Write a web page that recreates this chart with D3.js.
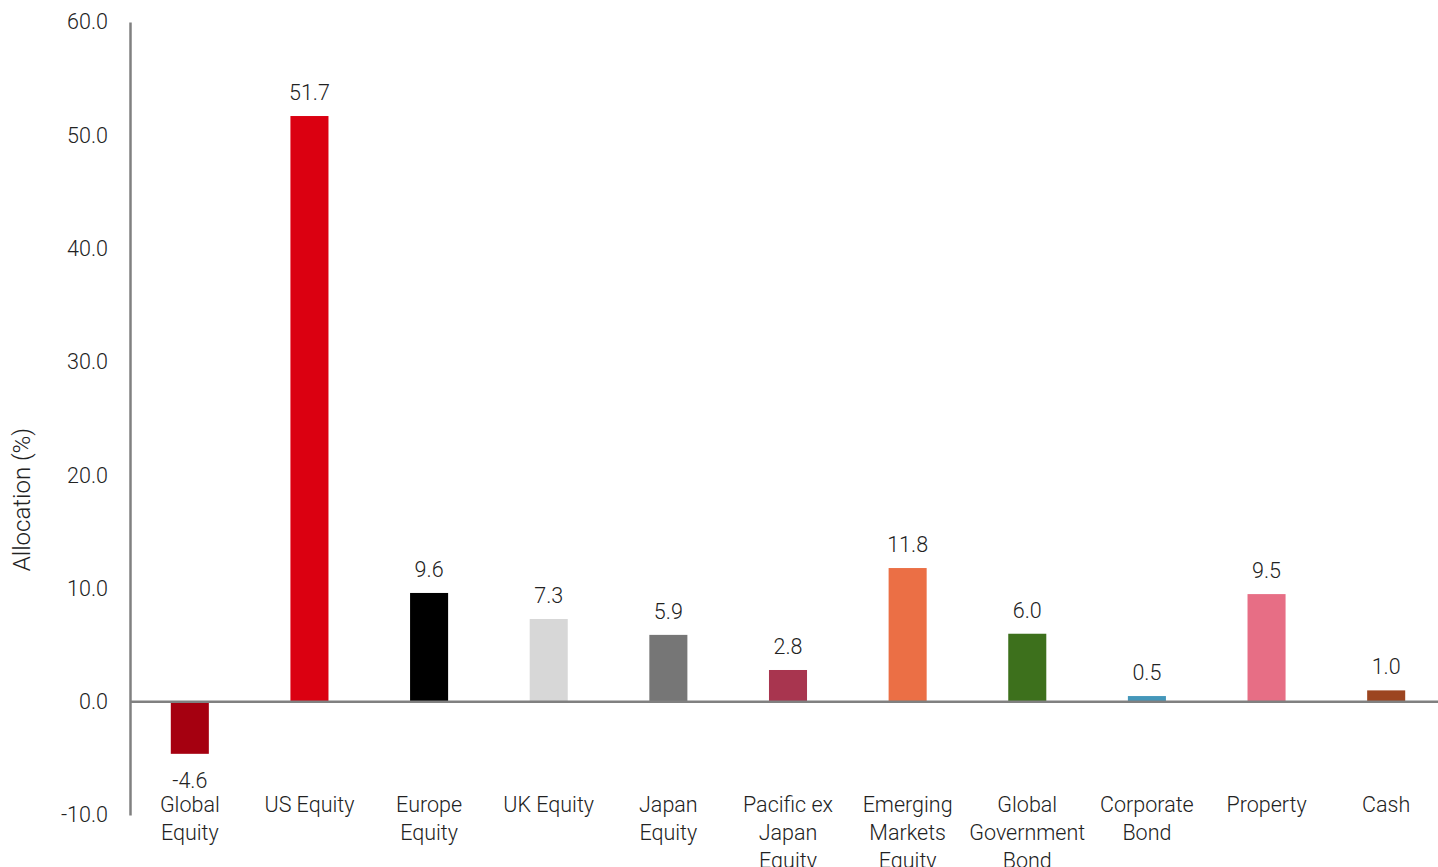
<!DOCTYPE html>
<html>
<head>
<meta charset="utf-8">
<script src="https://cdn.jsdelivr.net/npm/d3@7"></script>
<style>
  html, body { margin: 0; padding: 0; background: #fff; }
  svg { display: block; font-family: Roboto, "Liberation Sans", sans-serif; font-weight: 300; }
</style>
</head>
<body>
<svg id="chart" width="1438" height="867"></svg>
<script>
// Asset class allocations (%)
const categories = [
  ["Global", "Equity"],
  ["US Equity"],
  ["Europe", "Equity"],
  ["UK Equity"],
  ["Japan", "Equity"],
  ["Pacific ex", "Japan", "Equity"],
  ["Emerging", "Markets", "Equity"],
  ["Global", "Government", "Bond"],
  ["Corporate", "Bond"],
  ["Property"],
  ["Cash"]
];
const allocation = [-4.6, 51.7, 9.6, 7.3, 5.9, 2.8, 11.8, 6.0, 0.5, 9.5, 1.0];
const barColors = ["#A50010", "#DB0011", "#000000", "#D7D7D7", "#767676", "#A8354F",
                   "#EB6F45", "#3D701C", "#4497BA", "#E76E85", "#9C4520"];
const yTicks = [-10, 0, 10, 20, 30, 40, 50, 60];
const yTitle = "Allocation (%)";

const svg = d3.select("#chart");
const plotLeft = 130, plotRight = 1446, plotTop = 22, plotBottom = 815;

const keys = categories.map((c, i) => i);
const x = d3.scaleBand().domain(keys).range([plotLeft, plotRight]).paddingInner(0.682).paddingOuter(0.341);
const y = d3.scaleLinear().domain([-10, 60]).range([plotBottom, plotTop]);

// One decimal, plain hyphen for negatives
const fmt = d => d.toFixed(1);

const textColor = "#222";
const axisColor = "#808080";
const fontSize = 21.5;

// Bars
svg.append("g").selectAll("rect").data(allocation).join("rect")
  .attr("x", (d, i) => x(i))
  .attr("width", x.bandwidth())
  .attr("y", d => y(Math.max(0, d)))
  .attr("height", d => Math.abs(y(d) - y(0)))
  .attr("fill", (d, i) => barColors[i]);

// Y axis
const yAxis = svg.append("g").attr("transform", `translate(${plotLeft},0)`)
  .call(d3.axisLeft(y).tickValues(yTicks).tickFormat(fmt).tickSize(0).tickPadding(22));
yAxis.select(".domain").attr("stroke", axisColor).attr("stroke-width", 2.5);
yAxis.selectAll("text").attr("font-size", fontSize).attr("fill", textColor)
  .attr("font-family", "Roboto, 'Liberation Sans', sans-serif").attr("font-weight", 300);

// Zero line
svg.append("line")
  .attr("x1", plotLeft).attr("x2", 1438)
  .attr("y1", y(0)).attr("y2", y(0))
  .attr("stroke", axisColor).attr("stroke-width", 2.5);

// Value labels
svg.append("g").selectAll("text").data(allocation).join("text")
  .attr("x", (d, i) => x(i) + x.bandwidth() / 2)
  .attr("y", d => d >= 0 ? y(d) - 16 : y(d) + 34)
  .attr("text-anchor", "middle")
  .attr("font-size", fontSize)
  .attr("fill", textColor)
  .text(fmt);

// Category labels
const catG = svg.append("g");
categories.forEach((lines, i) => {
  const t = catG.append("text")
    .attr("x", x(i) + x.bandwidth() / 2)
    .attr("y", 812)
    .attr("text-anchor", "middle")
    .attr("font-size", fontSize)
    .attr("fill", textColor);
  lines.forEach((ln, j) => {
    t.append("tspan").attr("x", x(i) + x.bandwidth() / 2).attr("dy", j === 0 ? 0 : 28).text(ln);
  });
});

// Y axis title
svg.append("text")
  .attr("transform", `translate(30,${(y(60) + y(-10)) / 2 + 81}) rotate(-90)`)
  .attr("text-anchor", "middle")
  .attr("font-size", 24)
  .attr("fill", textColor)
  .text(yTitle);
</script>
</body>
</html>
